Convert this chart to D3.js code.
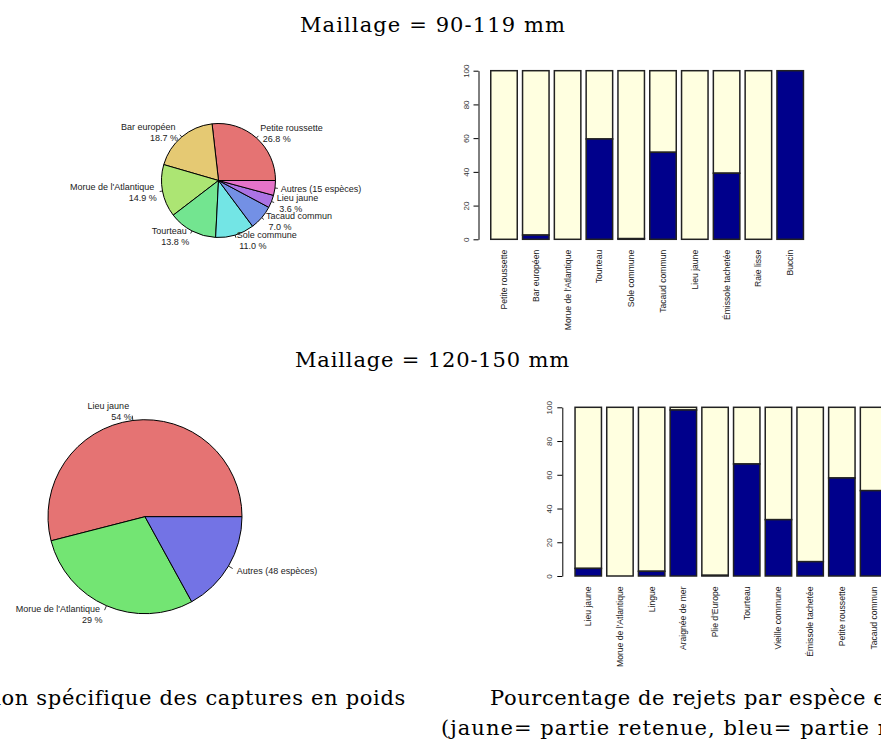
<!DOCTYPE html>
<html><head><meta charset="utf-8">
<script src="https://cdn.jsdelivr.net/npm/d3@7"></script>
<style>
body{margin:0;background:#fff;overflow:hidden}
svg{display:block}
text{white-space:pre}
</style>
</head><body>
<script>
// ---------- data ----------
const sectionTitles = ["Maillage = 90-119 mm", "Maillage = 120-150 mm"];
const captionLeft = "Composition spécifique des captures en poids";
const captionRight1 = "Pourcentage de rejets par espèce en poids";
const captionRight2 = "(jaune= partie retenue, bleu= partie rejetée)";

const pie1Species = ["Petite roussette", "Bar européen", "Morue de l'Atlantique", "Tourteau",
  "Sole commune", "Tacaud commun", "Lieu jaune", "Autres (15 espèces)"];
const pie1Percent = [26.8, 18.7, 14.9, 13.8, 11.0, 7.0, 3.6, 4.2];
const pie1PctLabels = ["26.8 %", "18.7 %", "14.9 %", "13.8 %", "11.0 %", "7.0 %", "3.6 %", ""];
const pie1Colors = ["#E57373", "#E5C973", "#ACE573", "#73E590", "#73E5E5", "#7390E5", "#AC73E5", "#E573C9"];

const pie2Species = ["Lieu jaune", "Morue de l'Atlantique", "Autres (48 espèces)"];
const pie2Percent = [54, 29, 17];
const pie2PctLabels = ["54 %", "29 %", ""];
const pie2Colors = ["#E57373", "#73E573", "#7373E5"];

const bar1Species = ["Petite roussette", "Bar européen", "Morue de l'Atlantique", "Tourteau",
  "Sole commune", "Tacaud commun", "Lieu jaune", "Émissole tachetée", "Raie lisse", "Buccin"];
const bar1Rejet = [0, 2.5, 0, 59.5, 0.4, 51.6, 0, 39.2, 0, 100];

const bar2Species = ["Lieu jaune", "Morue de l'Atlantique", "Lingue", "Araignée de mer",
  "Plie d'Europe", "Tourteau", "Vieille commune", "Émissole tachetée", "Petite roussette", "Tacaud commun"];
const bar2Rejet = [4.5, 0, 2.8, 98.4, 0.4, 66.4, 33.4, 8.5, 58.1, 50.6];

const yTicks = [0, 20, 40, 60, 80, 100];
const retainedColor = "#FFFFE0";
const rejectedColor = "#00008B";

// ---------- drawing ----------
const W = 881, H = 742;
const svg = d3.select("body").append("svg").attr("width", W).attr("height", H)
  .style("overflow", "hidden");
svg.append("rect").attr("width", W).attr("height", H).attr("fill", "#fff");

const serif = "DejaVu Serif";
const sans = "Liberation Sans, Arial, sans-serif";

function measure(str, size, family) {
  const t = svg.append("text").attr("font-family", family).attr("font-size", size).text(str);
  const w = t.node().getComputedTextLength();
  t.remove();
  return w;
}
function serifText(str, x, y, anchor, visible, targetW, size) {
  const w = measure(visible, size, serif);
  const ls = (targetW - w) / visible.length;
  return svg.append("text").attr("x", x).attr("y", y)
    .attr("font-family", serif).attr("font-size", size)
    .attr("letter-spacing", ls).attr("text-anchor", anchor)
    .attr("fill", "#000").text(str);
}

// titles
serifText(sectionTitles[0], 300, 32.3, "start", sectionTitles[0], 266, 21);
serifText(sectionTitles[1], 295, 367.3, "start", sectionTitles[1], 275, 21);
// captions
serifText(captionLeft, 406, 705, "end", "on spécifique des captures en poids", 404, 21);
serifText(captionRight1, 490, 705, "start", "Pourcentage de rejets par espèce", 376, 21);
serifText(captionRight2, 441, 735, "start", "(jaune= partie retenue, bleu= partie", 429, 21);

function drawPie(cx, cy, r, names, values, pcts, colors) {
  const g = svg.append("g").attr("transform", `translate(${cx},${cy})`);
  const pie = d3.pie().sort(null).startAngle(Math.PI / 2).endAngle(Math.PI / 2 - 2 * Math.PI);
  const arcs = pie(values);
  const arc = d3.arc().innerRadius(0).outerRadius(r);
  g.selectAll("path.slice").data(arcs).join("path").attr("class", "slice")
    .attr("d", arc).attr("fill", (d, i) => colors[i])
    .attr("stroke", "#000").attr("stroke-width", 1).attr("stroke-linejoin", "round");
  arcs.forEach((d, i) => {
    const a = (d.startAngle + d.endAngle) / 2;
    const sx = Math.sin(a), sy = -Math.cos(a);
    g.append("line").attr("x1", r * sx).attr("y1", r * sy)
      .attr("x2", 1.05 * r * sx).attr("y2", 1.05 * r * sy)
      .attr("stroke", "#000").attr("stroke-width", 0.8);
    const tx = 1.1 * r * sx, ty = 1.1 * r * sy;
    const anchor = sx >= 0 ? "start" : "end";
    const lines = pcts[i] ? [names[i] + " ", " " + pcts[i]] : [names[i]];
    const lh = 11;
    const t = g.append("text").attr("font-family", sans).attr("font-size", 9)
      .attr("fill", "#222").attr("text-anchor", anchor).attr("xml:space", "preserve");
    lines.forEach((ln, k) => {
      const off = (k - (lines.length - 1) / 2) * lh + 3.2;
      t.append("tspan").attr("x", tx).attr("y", ty + off).text(ln);
    });
  });
}

drawPie(218.5, 180.5, 57, pie1Species, pie1Percent, pie1PctLabels, pie1Colors);
drawPie(145, 516.7, 97, pie2Species, pie2Percent, pie2PctLabels, pie2Colors);

function drawBars(cats, rejet, x0, x1, yBottom, yTop, axisX) {
  const x = d3.scaleBand().domain(cats).range([x0, x1]).paddingInner(1 / 6).paddingOuter(1 / 12);
  const y = d3.scaleLinear().domain([0, 100]).range([yBottom, yTop]);
  const g = svg.append("g");
  const rows = cats.map((c, i) => ({ c, v: rejet[i] }));
  // retained (yellow, top)
  g.selectAll("rect.ret").data(rows).join("rect").attr("class", "ret")
    .attr("x", d => x(d.c)).attr("width", x.bandwidth())
    .attr("y", y(100)).attr("height", d => y(d.v) - y(100))
    .attr("fill", retainedColor).attr("stroke", "#222").attr("stroke-width", 1.5);
  // rejected (blue, bottom)
  g.selectAll("rect.rej").data(rows).join("rect").attr("class", "rej")
    .attr("x", d => x(d.c)).attr("width", x.bandwidth())
    .attr("y", d => y(d.v)).attr("height", d => y(0) - y(d.v))
    .attr("fill", rejectedColor).attr("stroke", "#222").attr("stroke-width", 1.5);

  // y axis
  const ya = svg.append("g").attr("transform", `translate(${axisX},0)`)
    .call(d3.axisLeft(y).tickValues(yTicks).tickSize(5).tickSizeOuter(0));
  ya.select(".domain").attr("stroke", "#000");
  ya.selectAll(".tick line").attr("stroke", "#000");
  ya.selectAll(".tick text")
    .attr("transform", "rotate(-90)").attr("x", 0).attr("y", -10).attr("dy", 0)
    .attr("text-anchor", "middle").attr("font-family", sans).attr("font-size", 8).attr("fill", "#333");

  // category labels
  const xa = svg.append("g").attr("transform", `translate(0,${yBottom})`)
    .call(d3.axisBottom(x).tickSize(0));
  xa.select(".domain").remove();
  xa.selectAll(".tick text")
    .attr("transform", "rotate(-90)").attr("x", -10.5).attr("y", 0).attr("dy", "0.35em")
    .attr("text-anchor", "end").attr("font-family", sans).attr("font-size", 8.6).attr("fill", "#222");
}

drawBars(bar1Species, bar1Rejet, 488.1, 806.1, 239.3, 70.7, 478.5);
drawBars(bar2Species, bar2Rejet, 572.4, 889.4, 576, 407.3, 562.3);
</script>
</body></html>
